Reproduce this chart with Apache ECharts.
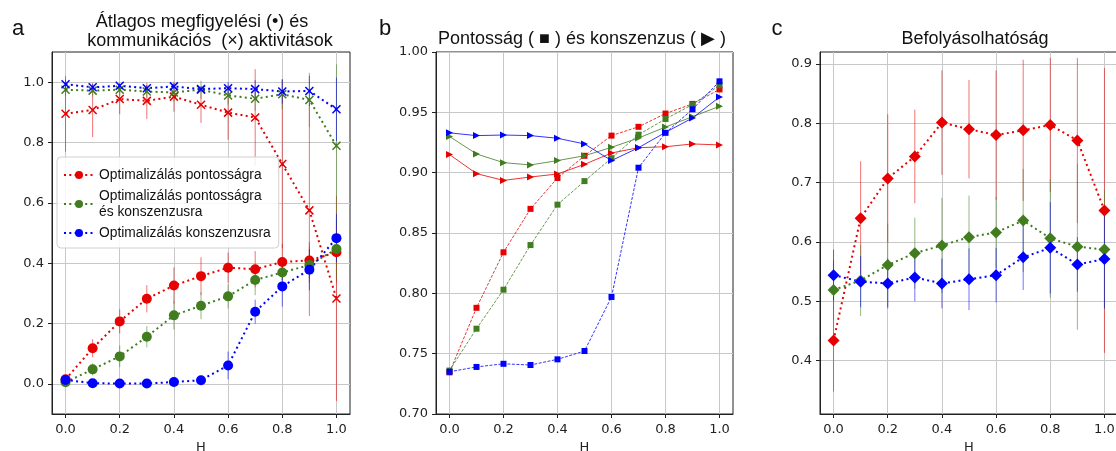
<!DOCTYPE html>
<html>
<head>
<meta charset="utf-8">
<script src="https://cdn.jsdelivr.net/npm/echarts@6/dist/echarts.min.js"></script>
<style>
  html, body { margin: 0; padding: 0; background: #fff; }
  #main { width: 1116px; height: 451px; }
</style>
</head>
<body>
<div id="main"></div>
<script>
var H = [0.0, 0.1, 0.2, 0.3, 0.4, 0.5, 0.6, 0.7, 0.8, 0.9, 1.0];

// a: megfigyelesi (kor) es kommunikacios (x) aktivitas
var obsPont = [0.015, 0.118, 0.207, 0.282, 0.326, 0.357, 0.385, 0.380, 0.404, 0.409, 0.436];
var obsPontErr = [0.01, 0.03, 0.04, 0.045, 0.06, 0.063, 0.05, 0.06, 0.06, 0.06, 0.1];
var obsMind = [0.005, 0.048, 0.091, 0.156, 0.227, 0.259, 0.290, 0.344, 0.369, 0.394, 0.447];
var obsMindErr = [0.01, 0.02, 0.036, 0.035, 0.047, 0.045, 0.04, 0.05, 0.05, 0.06, 0.1];
var obsKonsz = [0.013, 0.002, 0.001, 0.001, 0.006, 0.012, 0.061, 0.239, 0.323, 0.378, 0.483];
var obsKonszErr = [0.01, 0.005, 0.005, 0.005, 0.005, 0.015, 0.046, 0.04, 0.067, 0.068, 0.08];

var komPont = [0.895, 0.908, 0.944, 0.938, 0.952, 0.925, 0.899, 0.883, 0.729, 0.575, 0.283];
var komPontErr = [0.125, 0.09, 0.05, 0.06, 0.05, 0.06, 0.09, 0.16, 0.28, 0.35, 0.34];
var komMind = [0.975, 0.972, 0.975, 0.969, 0.966, 0.975, 0.956, 0.945, 0.960, 0.941, 0.789];
var komMindErr = [0.02, 0.02, 0.02, 0.02, 0.03, 0.03, 0.03, 0.04, 0.05, 0.09, 0.27];
var komKonsz = [0.993, 0.983, 0.988, 0.980, 0.986, 0.977, 0.980, 0.977, 0.969, 0.971, 0.910];
var komKonszErr = [0.015, 0.01, 0.01, 0.01, 0.01, 0.01, 0.02, 0.03, 0.04, 0.05, 0.105];

// b: pontossag (negyzet) es konszenzus (haromszog)
var pontPont = [0.7345, 0.788, 0.834, 0.870, 0.8956, 0.914, 0.9307, 0.938, 0.949, 0.957, 0.969];
var pontMind = [0.736, 0.7707, 0.803, 0.840, 0.8735, 0.893, 0.912, 0.9315, 0.9445, 0.9564, 0.9724];
var pontKonsz = [0.735, 0.739, 0.7416, 0.7406, 0.7453, 0.7522, 0.797, 0.9041, 0.933, 0.9525, 0.9757];
var konszPont = [0.915, 0.8992, 0.8936, 0.8964, 0.8989, 0.9069, 0.9163, 0.9207, 0.9215, 0.9238, 0.923];
var konszMind = [0.930, 0.9155, 0.9083, 0.9064, 0.910, 0.914, 0.921, 0.9287, 0.9378, 0.9464, 0.955];
var konszKonsz = [0.933, 0.9307, 0.9312, 0.9307, 0.9285, 0.9238, 0.910, 0.9207, 0.9334, 0.9453, 0.9627];

// c: befolyasolhatosag
var befPont = [0.434, 0.640, 0.707, 0.744, 0.801, 0.790, 0.780, 0.788, 0.797, 0.771, 0.653];
var befPontErr = [0.086, 0.096, 0.108, 0.079, 0.088, 0.083, 0.109, 0.119, 0.113, 0.139, 0.24];
var befMind = [0.519, 0.535, 0.561, 0.581, 0.594, 0.608, 0.616, 0.636, 0.606, 0.592, 0.587];
var befMindErr = [0.05, 0.06, 0.07, 0.06, 0.08, 0.07, 0.06, 0.087, 0.1, 0.14, 0.1];
var befKonsz = [0.544, 0.533, 0.530, 0.540, 0.530, 0.537, 0.544, 0.574, 0.590, 0.562, 0.571];
var befKonszErr = [0.043, 0.043, 0.042, 0.04, 0.042, 0.052, 0.046, 0.055, 0.077, 0.046, 0.083];

var xTicks = [0.0, 0.2, 0.4, 0.6, 0.8, 1.0];
var yTicksA = [0.0, 0.2, 0.4, 0.6, 0.8, 1.0];
var yTicksC = [0.4, 0.5, 0.6, 0.7, 0.8, 0.9];

var nevek = ['Optimalizálás pontosságra', 'Optimalizálás pontosságra\nés konszenzusra', 'Optimalizálás konszenzusra'];

var RED = '#e60000', GREEN = '#417d1f', BLUE = '#0000ff';
var CROSS = 'path://M0,0L10,10M10,0L0,10';
var FONT = 'DejaVu Sans';
var SANS = 'Liberation Sans';

function pts(arr) {
    return H.map(function (h, i) { return [h, arr[i]]; });
}

function errBars(idx, vals, errs, color) {
    return {
        type: 'custom', xAxisIndex: idx, yAxisIndex: idx, silent: true, z: 1,
        data: H.map(function (h, i) { return [h, vals[i], errs[i]]; }),
        encode: { x: 0, y: 1 },
        renderItem: function (params, api) {
            var x = api.value(0), y = api.value(1), e = api.value(2);
            var p1 = api.coord([x, y - e]);
            var p2 = api.coord([x, y + e]);
            var cs = params.coordSys;
            var top = Math.max(p2[1], cs.y), bot = Math.min(p1[1], cs.y + cs.height);
            return {
                type: 'line',
                shape: { x1: p1[0], y1: bot, x2: p1[0], y2: top },
                style: { stroke: color, lineWidth: 1, opacity: 0.55 }
            };
        }
    };
}

function dotLine(idx, name, vals, color, symbol, size, cross) {
    return {
        type: 'line', name: name, xAxisIndex: idx, yAxisIndex: idx, z: 3,
        data: pts(vals),
        symbol: symbol, symbolSize: size, showSymbol: true,
        lineStyle: { color: color, width: 2, type: [2, 3.3] },
        itemStyle: cross ? { color: 'none', borderColor: color, borderWidth: 1.5 }
                         : { color: color, borderWidth: 0 }
    };
}

function thinLine(name, vals, color, symbol, size, dashed, rot) {
    return {
        type: 'line', name: name, xAxisIndex: 1, yAxisIndex: 1, z: 3,
        data: pts(vals),
        symbol: symbol, symbolSize: size, symbolRotate: rot || 0, showSymbol: true,
        lineStyle: { color: color, width: 0.8, type: dashed ? [3, 1.5] : 'solid' },
        itemStyle: { color: color, borderWidth: 0 }
    };
}

function xAx(idx) {
    return {
        type: 'value', gridIndex: idx, min: -0.05, max: 1.05,
        name: 'H', nameLocation: 'middle', nameGap: 22,
        nameTextStyle: { fontSize: 13, color: '#222', fontFamily: FONT },
        axisLine: { show: true, onZero: false, lineStyle: { color: '#222' } },
        axisTick: { show: true, length: 4, customValues: xTicks, lineStyle: { color: '#222' } },
        axisLabel: { customValues: xTicks, margin: 9, fontSize: 13, color: '#222', fontFamily: FONT,
                     formatter: function (v) { return v.toFixed(1); } },
        splitLine: { show: true, lineStyle: { color: '#c8c8c8', width: 1 } }
    };
}

function yAx(idx, min, max, ticks, dec, interval) {
    var ax = {
        type: 'value', gridIndex: idx, min: min, max: max,
        axisLine: { show: true, onZero: false, lineStyle: { color: '#222' } },
        axisTick: { show: true, length: 4, lineStyle: { color: '#222' } },
        axisLabel: { margin: 8, fontSize: 13, color: '#222', fontFamily: FONT,
                     formatter: function (v) { return v.toFixed(dec); } },
        splitLine: { show: true, lineStyle: { color: '#c8c8c8', width: 1 } }
    };
    if (ticks) {
        ax.axisTick.customValues = ticks;
        ax.axisLabel.customValues = ticks;
    } else {
        ax.interval = interval;
    }
    return ax;
}

var series = [
    errBars(0, obsPont, obsPontErr, RED),
    errBars(0, komPont, komPontErr, RED),
    errBars(0, obsMind, obsMindErr, GREEN),
    errBars(0, komMind, komMindErr, GREEN),
    errBars(0, obsKonsz, obsKonszErr, BLUE),
    errBars(0, komKonsz, komKonszErr, BLUE),
    dotLine(0, nevek[0], obsPont, RED, 'circle', 10),
    dotLine(0, 'kom1', komPont, RED, CROSS, 8, true),
    dotLine(0, nevek[1], obsMind, GREEN, 'circle', 10),
    dotLine(0, 'kom2', komMind, GREEN, CROSS, 8, true),
    dotLine(0, nevek[2], obsKonsz, BLUE, 'circle', 10),
    dotLine(0, 'kom3', komKonsz, BLUE, CROSS, 8, true),

    thinLine('p1', pontPont, RED, 'rect', 6, true),
    thinLine('k1', konszPont, RED, 'triangle', 7, false, -90),
    thinLine('p2', pontMind, GREEN, 'rect', 6, true),
    thinLine('k2', konszMind, GREEN, 'triangle', 7, false, -90),
    thinLine('p3', pontKonsz, BLUE, 'rect', 6, true),
    thinLine('k3', konszKonsz, BLUE, 'triangle', 7, false, -90),

    errBars(2, befPont, befPontErr, RED),
    errBars(2, befMind, befMindErr, GREEN),
    errBars(2, befKonsz, befKonszErr, BLUE),
    dotLine(2, 'b1', befPont, RED, 'diamond', 12),
    dotLine(2, 'b2', befMind, GREEN, 'diamond', 12),
    dotLine(2, 'b3', befKonsz, BLUE, 'diamond', 12)
];

function cim(text, x, y, size) {
    return { text: text, left: x, top: y, textAlign: 'center',
             textStyle: { fontSize: size, fontWeight: 'normal', color: '#111', fontFamily: SANS } };
}

var myChart = echarts.init(document.getElementById('main'));
var option = {
    animation: false,
    backgroundColor: '#fff',
    textStyle: { fontFamily: FONT },
    title: [
        cim('a', 13, 13, 22),
        cim('b', 380, 13, 22),
        cim('c', 772, 13, 22),
        cim('Átlagos megfigyelési (•) és', 197, 8, 18),
        cim('kommunikációs  (×) aktivitások', 205, 27, 18),
        cim('Pontosság ( ■ ) és konszenzus ( ▶ )', 577, 25, 18),
        cim('Befolyásolhatóság', 970, 25, 18)
    ],
    legend: {
        data: nevek, orient: 'vertical', left: 57, top: 157,
        padding: [10, 8, 7, 6], itemGap: 5, itemWidth: 30, itemHeight: 10,
        backgroundColor: 'rgba(255,255,255,0.85)', borderColor: '#d0d0d0', borderWidth: 1, borderRadius: 4,
        textStyle: { fontSize: 13.8, color: '#111', lineHeight: 16, fontFamily: SANS }
    },
    grid: [
        { left: 52, top: 52, width: 298, height: 362, outerBoundsMode: 'none', show: true, borderColor: '#222', borderWidth: 1, backgroundColor: 'transparent' },
        { left: 436, top: 52, width: 297, height: 362, outerBoundsMode: 'none', show: true, borderColor: '#222', borderWidth: 1, backgroundColor: 'transparent' },
        { left: 820, top: 52, width: 298, height: 362, outerBoundsMode: 'none', show: true, borderColor: '#222', borderWidth: 1, backgroundColor: 'transparent' }
    ],
    xAxis: [xAx(0), xAx(1), xAx(2)],
    yAxis: [
        yAx(0, -0.1, 1.1, yTicksA, 1),
        yAx(1, 0.7, 1.0, null, 2, 0.05),
        yAx(2, 0.31, 0.92, yTicksC, 1)
    ],
    series: series
};
myChart.setOption(option);
</script>
</body>
</html>
